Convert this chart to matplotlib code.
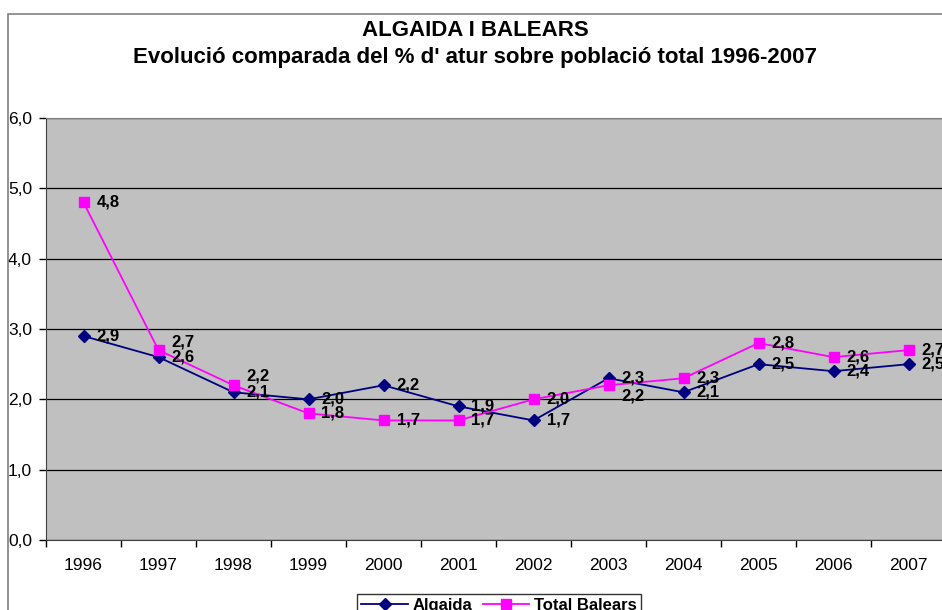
import matplotlib
matplotlib.use('Agg')
import matplotlib.pyplot as plt
from matplotlib.patches import Rectangle
from matplotlib.ticker import MultipleLocator, FixedLocator

plt.rcParams['font.family'] = ['Liberation Sans', 'DejaVu Sans']

# Dades
anys = ['1996', '1997', '1998', '1999', '2000', '2001',
        '2002', '2003', '2004', '2005', '2006', '2007']
algaida = [2.9, 2.6, 2.1, 2.0, 2.2, 1.9, 1.7, 2.3, 2.1, 2.5, 2.4, 2.5]
balears = [4.8, 2.7, 2.2, 1.8, 1.7, 1.7, 2.0, 2.2, 2.3, 2.8, 2.6, 2.7]

# desplaçament vertical (px) de les etiquetes de Balears que es solapen
despl_balears = [0, 8, 9, 0, 0, 0, 0, -11, 0, 0, 0, 0]

W, H = 942, 610
fig = plt.figure(figsize=(W / 100, H / 100), dpi=100)
fig.patch.set_facecolor('white')

# marc del gràfic
fig.patches.append(Rectangle((8 / W, -0.1), 1.2, 1 - 14 / H + 0.1,
                             transform=fig.transFigure, fill=False,
                             edgecolor='#808080', lw=1.2))

ax = fig.add_axes([46 / W, 70 / H, 900 / W, 422 / H])
ax.set_facecolor('#C0C0C0')

x = list(range(len(anys)))
ax.plot(x, algaida, color='#000080', marker='D', markersize=6,
        lw=1.3, label='Algaida', zorder=3)
ax.plot(x, balears, color='#FF00FF', marker='s', markersize=6.5,
        lw=1.3, label='Total Balears', zorder=3)

for i, v in enumerate(algaida):
    ax.annotate(f'{v:.1f}'.replace('.', ','), (i, v), xytext=(13, 0),
                textcoords='offset pixels', ha='left', va='center',
                fontsize=12, fontweight='bold', zorder=4)
for i, v in enumerate(balears):
    ax.annotate(f'{v:.1f}'.replace('.', ','), (i, v),
                xytext=(13, despl_balears[i]),
                textcoords='offset pixels', ha='left', va='center',
                fontsize=12, fontweight='bold', zorder=4)

ax.set_xlim(-0.5, len(anys) - 0.5)
ax.set_ylim(0, 6)
ax.yaxis.set_major_locator(MultipleLocator(1))
ax.set_yticklabels([f'{t:.1f}'.replace('.', ',') for t in ax.get_yticks()])
ax.grid(axis='y', color='black', lw=0.9)
ax.set_axisbelow(True)

ax.set_xticks(x)
ax.set_xticklabels(anys)
ax.xaxis.set_minor_locator(FixedLocator([i - 0.5 for i in range(len(anys) + 1)]))
ax.tick_params(axis='x', which='major', length=0, pad=13, labelsize=12.5)
ax.tick_params(axis='x', which='minor', length=5, width=1)
ax.tick_params(axis='y', length=5, width=1, pad=5, labelsize=12.5)

ax.spines['right'].set_visible(False)
ax.spines['top'].set_color('#808080')
ax.spines['left'].set_color('#404040')
ax.spines['bottom'].set_color('#404040')

fig.text(475 / W, 1 - 30 / H, 'ALGAIDA I BALEARS', ha='center', va='center',
         fontsize=16, fontweight='bold')
fig.text(475 / W, 1 - 58 / H,
         "Evolució comparada del % d' atur sobre població total 1996-2007",
         ha='center', va='center', fontsize=16, fontweight='bold')

leg = fig.legend(loc='upper left', bbox_to_anchor=(357 / W, 1 - 594 / H),
                 ncol=2, frameon=True, fancybox=False, edgecolor='black',
                 prop={'weight': 'bold', 'size': 12}, handlelength=2.8,
                 columnspacing=0.6, handletextpad=0.3, borderpad=0.25,
                 borderaxespad=0)
leg.get_frame().set_linewidth(1)

fig.savefig('out.png', dpi=100)
